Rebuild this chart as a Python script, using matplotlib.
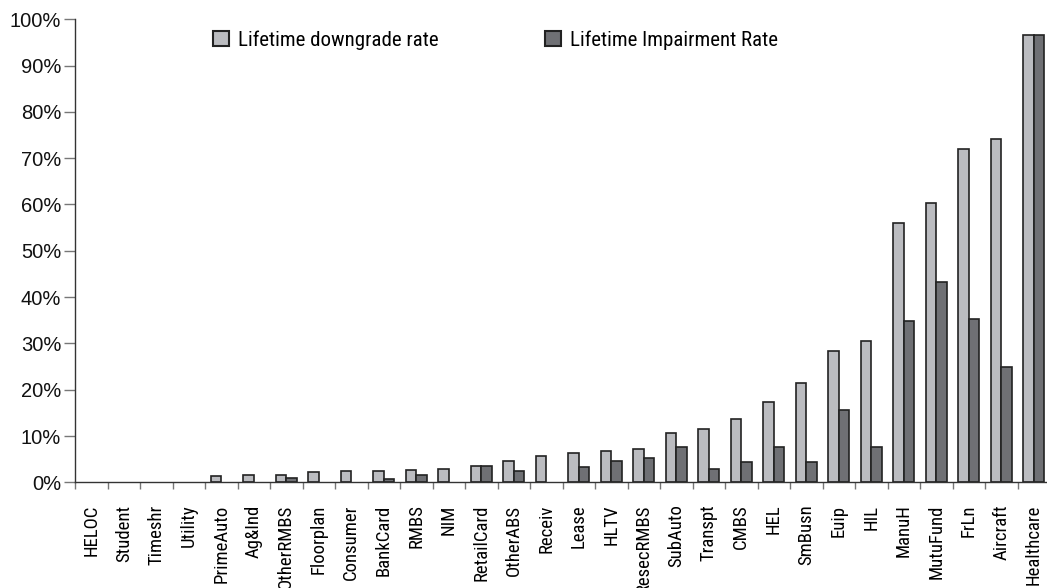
import numpy as np
import matplotlib.pyplot as plt
from matplotlib.patches import Patch
from matplotlib.ticker import FixedLocator, PercentFormatter

plt.rcParams['font.family'] = 'Liberation Sans'

# ABS sectors, sorted by lifetime downgrade rate
sectors = ['HELOC', 'Student', 'Timeshr', 'Utility', 'PrimeAuto', 'Ag&Ind',
           'OtherRMBS', 'Floorplan', 'Consumer', 'BankCard', 'RMBS', 'NIM',
           'RetailCard', 'OtherABS', 'Receiv', 'Lease', 'HLTV', 'ResecRMBS',
           'SubAuto', 'Transpt', 'CMBS', 'HEL', 'SmBusn', 'Euip', 'HIL',
           'ManuH', 'MutuFund', 'FrLn', 'Aircraft', 'Healthcare']

# rates in %
downgrade = [0, 0, 0, 0, 1.3, 1.6, 1.6, 2.2, 2.4, 2.4, 2.6, 2.8, 3.6, 4.6,
             5.7, 6.3, 6.8, 7.3, 10.7, 11.5, 13.6, 17.3, 21.4, 28.4, 30.6,
             56.1, 60.3, 72.0, 74.2, 96.7]
impairment = [0, 0, 0, 0, 0, 0, 1.0, 0, 0, 0.7, 1.6, 0, 3.6, 2.4, 0, 3.2,
              4.5, 5.2, 7.7, 2.9, 4.3, 7.6, 4.3, 15.6, 7.6, 34.8, 43.3,
              35.3, 24.8, 96.7]

LIGHT, DARK, EDGE = '#bbbcc0', '#6f7074', '#222222'

W, H = 1047, 588
fig = plt.figure(figsize=(W / 100, H / 100), dpi=100)
ax = fig.add_axes([75 / W, 105.7 / H, 975 / W, 463 / H])

x = np.arange(len(sectors))
bw = 0.33
b1 = ax.bar(x - bw / 2, np.array(downgrade) / 100, bw, color=LIGHT,
            edgecolor=EDGE, linewidth=1.2)
b2 = ax.bar(x + bw / 2, np.array(impairment) / 100, bw, color=DARK,
            edgecolor=EDGE, linewidth=1.2)
# empty sectors get no outline on the axis
for p in list(b1) + list(b2):
    if p.get_height() == 0:
        p.set_visible(False)

ax.set_xlim(-0.5, len(sectors) - 0.5)
ax.set_ylim(0, 1.0)

ax.spines['top'].set_visible(False)
ax.spines['right'].set_visible(False)
for s in ('left', 'bottom'):
    ax.spines[s].set_color('#333333')
    ax.spines[s].set_linewidth(1.0)

ax.yaxis.set_major_locator(FixedLocator(np.arange(0, 1.01, 0.1)))
ax.yaxis.set_major_formatter(PercentFormatter(1.0, decimals=0))
ax.tick_params(axis='y', length=8, width=1.0, color='#777777',
               labelsize=14.5, pad=2, labelcolor='#111111')

# labels in the middle of each group, tick marks between groups
ax.set_xticks(x)
ax.set_xticklabels(sectors, rotation=90, fontsize=13.5,
                   family='Roboto Condensed', color='#000000')
ax.set_xticks(np.arange(-0.5, len(sectors), 1.0), minor=True)
ax.tick_params(axis='x', which='major', length=0, pad=16)
ax.tick_params(axis='x', which='minor', length=5, width=1.0, color='#777777')

handles = [Patch(facecolor=LIGHT, edgecolor=EDGE, linewidth=1.5),
           Patch(facecolor=DARK, edgecolor=EDGE, linewidth=1.5)]
leg = ax.legend(handles, ['Lifetime downgrade rate', 'Lifetime Impairment Rate'],
                loc='upper left', bbox_to_anchor=(130 / 975, 1.0 - 3 / 463),
                ncol=2, frameon=False, handlelength=0.75,
                handleheight=0.75, handletextpad=0.45, columnspacing=5.1,
                borderaxespad=0,
                prop={'family': 'Roboto Condensed', 'size': 15})
for t in leg.get_texts():
    t.set_color('#000000')

fig.savefig('out.png', dpi=100)
